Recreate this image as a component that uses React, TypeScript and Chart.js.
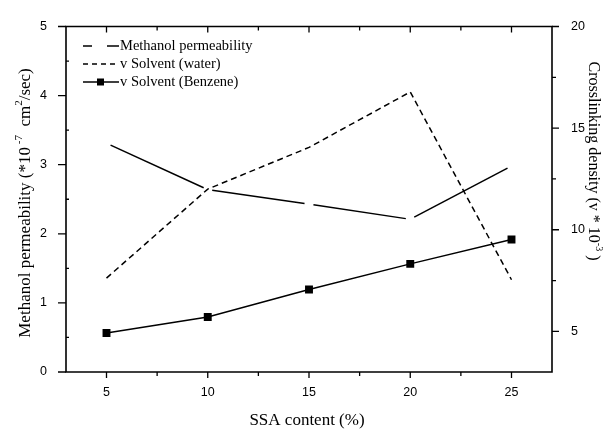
import React, { useEffect, useRef } from 'react';
import { Chart, registerables } from 'chart.js';
Chart.register(...registerables);

const ssaContent = [5, 10, 15, 20, 25];
const methanolPermeability = [3.31, 2.64, 2.43, 2.21, 2.98];
const solventWater = [7.62, 12.0, 14.05, 16.78, 7.54];
const solventBenzene = [4.92, 5.71, 7.06, 8.32, 9.52];

const xMajorTicks = [5, 10, 15, 20, 25];
const xMinorTicks = [7.5, 12.5, 17.5, 22.5];
const leftMajorTicks = [0, 1, 2, 3, 4, 5];
const leftMinorTicks = [0.5, 1.5, 2.5, 3.5, 4.5];
const rightMajorTicks = [5, 10, 15, 20];
const rightMinorTicks = [7.5, 12.5, 17.5];

const legendLabels = ['Methanol permeability', 'v Solvent (water)', 'v Solvent (Benzene)'];

const SERIF = '"Liberation Serif", "Times New Roman", serif';
const SANS = '"Liberation Sans", Arial, sans-serif';

type Part = { t: string; sup?: boolean };

function drawRich(ctx: CanvasRenderingContext2D, parts: Part[], cx: number, cy: number, rot: number, size: number) {
  ctx.save();
  ctx.translate(cx, cy);
  ctx.rotate(rot);
  ctx.fillStyle = '#000';
  ctx.textBaseline = 'middle';
  ctx.textAlign = 'left';
  const supSize = Math.round(size * 0.62);
  let total = 0;
  for (const p of parts) {
    ctx.font = `${p.sup ? supSize : size}px ${SERIF}`;
    total += ctx.measureText(p.t).width;
  }
  let x = -total / 2;
  for (const p of parts) {
    ctx.font = `${p.sup ? supSize : size}px ${SERIF}`;
    ctx.fillText(p.t, x, p.sup ? -size * 0.38 : 0);
    x += ctx.measureText(p.t).width;
  }
  ctx.restore();
}

const decorPlugin = {
  id: 'decor',
  afterDraw(chart: any) {
    const ctx: CanvasRenderingContext2D = chart.ctx;
    const { left, right, top, bottom } = chart.chartArea;
    const xs = chart.scales.x;
    const yl = chart.scales.y;
    const yr = chart.scales.y1;
    ctx.save();
    ctx.strokeStyle = '#000';
    ctx.lineWidth = 1.6;
    ctx.setLineDash([]);
    ctx.beginPath();
    ctx.rect(left, top, right - left, bottom - top);
    ctx.stroke();
    ctx.lineWidth = 1.3;
    ctx.beginPath();
    for (const v of xMajorTicks) {
      const px = xs.getPixelForValue(v);
      ctx.moveTo(px, bottom); ctx.lineTo(px, bottom + 6);
      ctx.moveTo(px, top); ctx.lineTo(px, top + 6);
    }
    for (const v of xMinorTicks) {
      const px = xs.getPixelForValue(v);
      ctx.moveTo(px, bottom); ctx.lineTo(px, bottom + 4);
      ctx.moveTo(px, top); ctx.lineTo(px, top + 4);
    }
    for (const v of leftMajorTicks) {
      const py = yl.getPixelForValue(v);
      ctx.moveTo(left, py); ctx.lineTo(left - 8, py);
    }
    for (const v of leftMinorTicks) {
      const py = yl.getPixelForValue(v);
      ctx.moveTo(left, py); ctx.lineTo(left + 3, py);
    }
    for (const v of rightMajorTicks) {
      const py = yr.getPixelForValue(v);
      ctx.moveTo(right, py); ctx.lineTo(right + 7, py);
    }
    for (const v of rightMinorTicks) {
      const py = yr.getPixelForValue(v);
      ctx.moveTo(right, py); ctx.lineTo(right + 4, py);
    }
    ctx.stroke();

    // axis titles
    drawRich(ctx, [{ t: 'Methanol permeability (*10' }, { t: ' -7', sup: true }, { t: '  cm' }, { t: '2', sup: true }, { t: '/sec)' }], 26, 203, -Math.PI / 2, 17);
    drawRich(ctx, [{ t: 'Crosslinking density (v * 10' }, { t: '-3', sup: true }, { t: ' )' }], 593, 161, Math.PI / 2, 16);
    drawRich(ctx, [{ t: 'SSA content (%)' }], (left + right) / 2 - 2, 421, 0, 17);

    // legend
    const rows = [46, 64, 82];
    const x0 = 83, x1 = 119;
    ctx.lineWidth = 1.4;
    ctx.strokeStyle = '#000';
    ctx.setLineDash([]);
    ctx.beginPath();
    ctx.moveTo(x0, rows[0]); ctx.lineTo(x0 + 9, rows[0]);
    ctx.moveTo(x0 + 24, rows[0]); ctx.lineTo(x1, rows[0]);
    ctx.stroke();
    ctx.setLineDash([5, 4]);
    ctx.beginPath();
    ctx.moveTo(x0, rows[1]); ctx.lineTo(x1, rows[1]);
    ctx.stroke();
    ctx.setLineDash([]);
    ctx.beginPath();
    ctx.moveTo(x0, rows[2]); ctx.lineTo(x1, rows[2]);
    ctx.stroke();
    ctx.fillStyle = '#000';
    ctx.fillRect(x0 + 14, rows[2] - 3.5, 7, 7);

    ctx.font = `14.5px ${SERIF}`;
    ctx.textBaseline = 'middle';
    ctx.textAlign = 'left';
    legendLabels.forEach((l, i) => ctx.fillText(l, x1 + 1, rows[i]));
    ctx.restore();
  },
};

function gapDash(c: any) {
  const dx = c.p1.x - c.p0.x;
  const dy = c.p1.y - c.p0.y;
  const L = Math.sqrt(dx * dx + dy * dy);
  return [Math.max(L - 9, 1), 9];
}
function gapOffset(c: any) {
  const dx = c.p1.x - c.p0.x;
  const dy = c.p1.y - c.p0.y;
  const L = Math.sqrt(dx * dx + dy * dy);
  return L - 4.5;
}

export default function App() {
  const ref = useRef<HTMLCanvasElement>(null);
  useEffect(() => {
    if (!ref.current) return;
    const chart = new Chart(ref.current, {
      type: 'line',
      data: {
        datasets: [
          {
            label: legendLabels[0],
            data: ssaContent.map((x, i) => ({ x, y: methanolPermeability[i] })),
            yAxisID: 'y',
            borderColor: '#000',
            borderWidth: 1.5,
            pointRadius: 0,
            segment: { borderDash: gapDash, borderDashOffset: gapOffset } as any,
          },
          {
            label: legendLabels[1],
            data: ssaContent.map((x, i) => ({ x, y: solventWater[i] })),
            yAxisID: 'y1',
            borderColor: '#000',
            borderWidth: 1.5,
            borderDash: [6, 4],
            pointRadius: 0,
          },
          {
            label: legendLabels[2],
            data: ssaContent.map((x, i) => ({ x, y: solventBenzene[i] })),
            yAxisID: 'y1',
            borderColor: '#000',
            backgroundColor: '#000',
            borderWidth: 1.5,
            pointStyle: 'rect',
            pointRadius: 5.6,
            pointBorderWidth: 0,
          },
        ],
      },
      options: {
        animation: false,
        responsive: false,
        layout: { padding: { top: 15, left: 0, right: 0, bottom: 0 } },
        plugins: { legend: { display: false }, tooltip: { enabled: false } },
        scales: {
          x: {
            type: 'linear',
            min: 3,
            max: 27,
            afterBuildTicks: (s: any) => { s.ticks = xMajorTicks.map((v) => ({ value: v })); },
            afterFit: (s: any) => { s.height = 61; },
            grid: { display: true, drawOnChartArea: false, drawTicks: false, color: 'rgba(0,0,0,0)' },
            border: { display: false },
            ticks: { padding: 13, color: '#000', font: { family: SANS, size: 12.5 }, maxRotation: 0 },
          },
          y: {
            type: 'linear',
            position: 'left',
            min: 0,
            max: 5,
            afterBuildTicks: (s: any) => { s.ticks = leftMajorTicks.map((v) => ({ value: v })); },
            afterFit: (s: any) => { s.width = 66; },
            grid: { display: true, drawOnChartArea: false, drawTicks: false, color: 'rgba(0,0,0,0)' },
            border: { display: false },
            ticks: { padding: 19, color: '#000', font: { family: SANS, size: 12.5 } },
          },
          y1: {
            type: 'linear',
            position: 'right',
            min: 3,
            max: 20,
            afterBuildTicks: (s: any) => { s.ticks = rightMajorTicks.map((v) => ({ value: v })); },
            afterFit: (s: any) => { s.width = 61; },
            grid: { display: true, drawOnChartArea: false, drawTicks: false, color: 'rgba(0,0,0,0)' },
            border: { display: false },
            ticks: { padding: 19, color: '#000', font: { family: SANS, size: 12.5 } },
          },
        },
      },
      plugins: [decorPlugin],
    });
    return () => chart.destroy();
  }, []);
  return (
    <div style={{ position: 'absolute', left: 0, top: 0, width: 613, height: 433, background: '#fff' }}>
      <canvas ref={ref} width={613} height={433} style={{ display: 'block' }} />
    </div>
  );
}
